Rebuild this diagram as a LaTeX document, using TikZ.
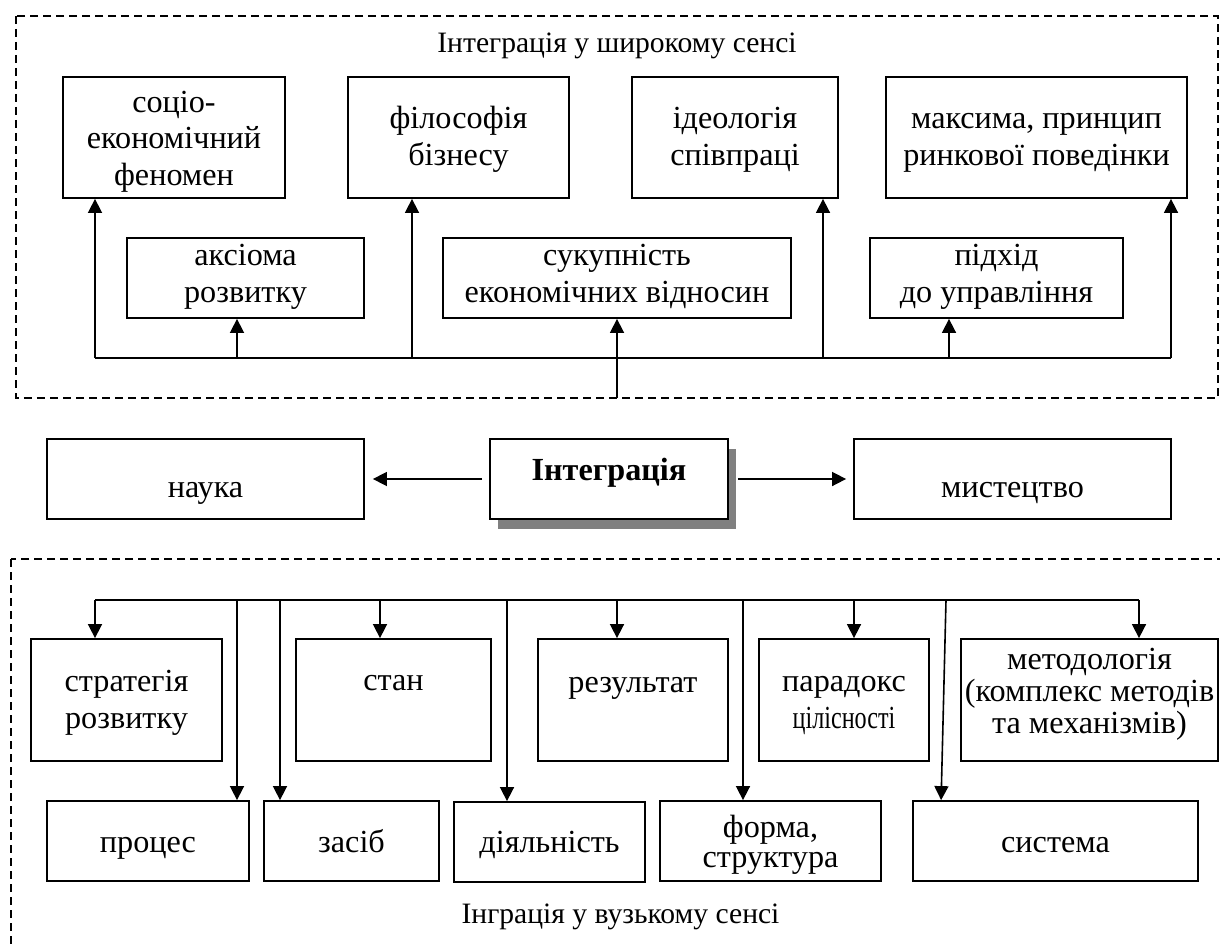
\documentclass[tikz,border=0pt]{standalone}
\usepackage{fontspec}
\setmainfont{Liberation Serif}
\usetikzlibrary{arrows.meta,shadows}
\begin{document}
\begin{tikzpicture}[x=0.5pt,y=-0.5pt,
  box/.style={draw, line width=0.9pt, fill=white, inner sep=0pt},
  txt/.style={align=center, inner sep=0pt, anchor=base,
    font=\fontsize{16.1pt}{18.25pt}\selectfont},
  arr/.style={line width=0.8pt, -{Triangle[length=7pt,width=7pt]}},
  link/.style={line width=0.8pt},
  zone/.style={line width=0.8pt, dash pattern=on 4pt off 2.5pt},
  zonetitle/.style={inner sep=0pt, anchor=base, font=\fontsize{14.8pt}{17pt}\selectfont}]
\useasboundingbox (0,0) rectangle (1220,947);
\clip (0,0) rectangle (1220,947);

% ---------- broad sense ----------
% (text nodes are anchored at the baseline of their last line)
\draw[zone] (16,16) rectangle (1218,398);
\node[zonetitle] (broad) at (617,53) {Інтеграція у широкому сенсі};

\node[box, minimum width=111pt, minimum height=60.5pt] (socio) at (174,137.5) {};
\node[txt] (socio-t) at (174,185) {соціо-\\економічний\\феномен};
\node[box, minimum width=110.5pt, minimum height=60.5pt] (philo) at (458.5,137.5) {};
\node[txt] (philo-t) at (458.5,165) {філософія\\бізнесу};
\node[box, minimum width=103pt, minimum height=60.5pt] (ideo) at (735,137.5) {};
\node[txt] (ideo-t) at (735,165) {ідеологія\\співпраці};
\node[box, minimum width=150.5pt, minimum height=60.5pt] (maxim) at (1036.5,137.5) {};
\node[txt] (maxim-t) at (1036.5,165) {максима, принцип\\ринкової поведінки};

\node[box, minimum width=118.5pt, minimum height=40pt] (axiom) at (245.5,278) {};
\node[txt] (axiom-t) at (245.5,302) {аксіома\\розвитку};
\node[box, minimum width=174pt, minimum height=40pt] (total) at (617,278) {};
\node[txt] (total-t) at (617,302) {сукупність\\економічних відносин};
\node[box, minimum width=126.5pt, minimum height=40pt] (manage) at (996.5,278) {};
\node[txt] (manage-t) at (996.5,302) {підхід\\до управління};

\coordinate (ub-l) at (95,358);
\coordinate (ub-r) at (1171,358);
\coordinate (u2) at (237,358);
\coordinate (u3) at (412,358);
\coordinate (u5) at (823,358);
\coordinate (u6) at (949,358);
\coordinate (ufoot) at (617,398);
\draw[link] (ub-l) -- (ub-r);
\draw[arr] (ub-l) -- (ub-l |- socio.south);
\draw[arr] (u2) -- (u2 |- axiom.south);
\draw[arr] (u3) -- (u3 |- philo.south);
\draw[arr] (ufoot) -- (ufoot |- total.south);
\draw[arr] (u5) -- (u5 |- ideo.south);
\draw[arr] (u6) -- (u6 |- manage.south);
\draw[arr] (ub-r) -- (ub-r |- maxim.south);

% ---------- central row ----------
\node[box, minimum width=158.5pt, minimum height=40pt] (science) at (205.5,479) {};
\node[txt] (science-t) at (205.5,497) {наука};
\node[box, minimum width=119pt, minimum height=40pt,
  drop shadow={shadow xshift=4pt, shadow yshift=-5pt, opacity=1, fill=black!50}] (integ) at (609,479) {};
\node[txt, font=\fontsize{16.1pt}{18.25pt}\selectfont\bfseries] (integ-t) at (609,480) {Інтеграція};
\node[box, minimum width=158.5pt, minimum height=40pt] (art) at (1012.5,479) {};
\node[txt] (art-t) at (1012.5,497) {мистецтво};

\draw[arr, shorten <=3.5pt, shorten >=4pt] (integ.west) -- (science.east);
\draw[arr, shorten <=4.5pt, shorten >=3.5pt] (integ.east) -- (art.west);

% ---------- narrow sense ----------
\draw[zone] (11,559) rectangle (1240,990);
\node[zonetitle] (narrow) at (620.5,923) {Інграція у вузькому сенсі};

\node[box, minimum width=95.5pt, minimum height=61pt] (strat) at (126.5,700) {};
\node[txt] (strat-t) at (126.5,728) {стратегія\\розвитку};
\node[box, minimum width=97.5pt, minimum height=61pt] (state) at (393.5,700) {};
\node[txt] (state-t) at (393.5,690) {стан};
\node[box, minimum width=95pt, minimum height=61pt] (result) at (633,700) {};
\node[txt] (result-t) at (633,692) {результат};
\node[box, minimum width=85pt, minimum height=61pt] (parad) at (844,700) {};
\node[txt] (parad-t) at (844,728) {парадокс\\\scalebox{0.75}[1]{цілісності}};
\node[box, minimum width=128.5pt, minimum height=61pt] (method) at (1089.5,700) {};
\node[txt, font=\fontsize{16.1pt}{16pt}\selectfont] (method-t) at (1089.5,733) {методологія\\(комплекс методів\\та механізмів)};

\node[box, minimum width=101pt, minimum height=40pt] (proc) at (148,841) {};
\node[txt] (proc-t) at (148,852) {процес};
\node[box, minimum width=87.5pt, minimum height=40pt] (means) at (351.5,841) {};
\node[txt] (means-t) at (351.5,852) {засіб};
\node[box, minimum width=95.5pt, minimum height=40pt] (activ) at (549.5,842) {};
\node[txt] (activ-t) at (549.5,852) {діяльність};
\node[box, minimum width=110.5pt, minimum height=40pt] (form) at (770.5,841) {};
\node[txt, font=\fontsize{16.1pt}{15pt}\selectfont] (form-t) at (770.5,867) {форма,\\структура};
\node[box, minimum width=142.5pt, minimum height=40pt] (sys) at (1055.5,841) {};
\node[txt] (sys-t) at (1055.5,852) {система};

\coordinate (lb-l) at (95,600);
\coordinate (lb-r) at (1139,600);
\coordinate (d-proc) at (237,600);
\coordinate (d-means) at (280,600);
\coordinate (d-state) at (380,600);
\coordinate (d-activ) at (507,600);
\coordinate (d-result) at (617,600);
\coordinate (d-form) at (743,600);
\coordinate (d-parad) at (854,600);
\coordinate (d-sys) at (946,600);
\draw[link] (lb-l) -- (lb-r);
\draw[arr] (lb-l) -- (lb-l |- strat.north);
\draw[arr] (d-proc) -- (d-proc |- proc.north);
\draw[arr] (d-means) -- (d-means |- means.north);
\draw[arr] (d-state) -- (d-state |- state.north);
\draw[arr] (d-activ) -- (d-activ |- activ.north);
\draw[arr] (d-result) -- (d-result |- result.north);
\draw[arr] (d-form) -- (d-form |- form.north);
\draw[arr] (d-parad) -- (d-parad |- parad.north);
\draw[arr] (d-sys) -- ([xshift=14.5pt]sys.north west);
\draw[arr] (lb-r) -- (lb-r |- method.north);
\end{tikzpicture}
\end{document}
